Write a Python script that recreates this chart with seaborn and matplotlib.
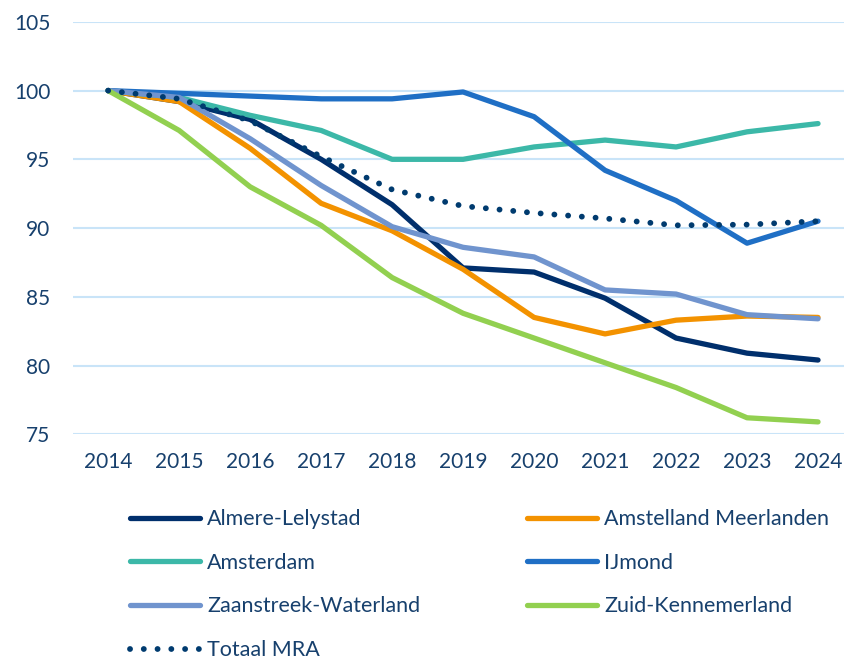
import matplotlib
matplotlib.use("Agg")
import matplotlib.pyplot as plt
import seaborn as sb
import pandas as pd

years = [2014, 2015, 2016, 2017, 2018, 2019, 2020, 2021, 2022, 2023, 2024]

almere = [100, 99.2, 97.9, 95.0, 91.7, 87.1, 86.8, 84.9, 82.0, 80.9, 80.4]
amstelland = [100, 99.2, 95.8, 91.8, 89.8, 87.0, 83.5, 82.3, 83.3, 83.6, 83.5]
amsterdam = [100, 99.5, 98.2, 97.1, 95.0, 95.0, 95.9, 96.4, 95.9, 97.0, 97.6]
ijmond = [100, 99.8, 99.6, 99.4, 99.4, 99.9, 98.1, 94.2, 92.0, 88.9, 90.5]
zaanstreek = [100, 99.5, 96.5, 93.1, 90.1, 88.6, 87.9, 85.5, 85.2, 83.7, 83.4]
zuid = [100, 97.1, 93.0, 90.2, 86.4, 83.8, 82.0, 80.2, 78.4, 76.2, 75.9]
totaal = [100, 99.4, 97.8, 95.2, 92.8, 91.6, 91.1, 90.7, 90.2, 90.25, 90.5]

names = ["Almere-Lelystad", "Amstelland Meerlanden", "Amsterdam", "IJmond",
         "Zaanstreek-Waterland", "Zuid-Kennemerland", "Totaal MRA"]
series = [almere, amstelland, amsterdam, ijmond, zaanstreek, zuid, totaal]
colors = ["#002F6C", "#F39200", "#3CB8A8", "#1F6FC5", "#7094CE", "#92D050", "#003B6F"]

txt = "#17406D"

fig = plt.figure(figsize=(8.45, 6.62), dpi=100)
ax = fig.add_axes([0.086, 0.344, 0.914, 0.623])

lines = {}
for name, vals, c in zip(names, series, colors):
    df = pd.DataFrame({"jaar": years, "index": vals})
    if name == "Totaal MRA":
        sb.lineplot(data=df, x="jaar", y="index", ax=ax, color=c, linewidth=4.2,
                    linestyle=(0, (0.01, 2.35)), dash_capstyle="round", zorder=5)
    else:
        sb.lineplot(data=df, x="jaar", y="index", ax=ax, color=c, linewidth=3.8,
                    solid_capstyle="round")
    lines[name] = ax.lines[-1]

ax.set_ylim(75, 105)
ax.set_xlim(2013.5, 2024.38)
ax.set_xticks(years)
ax.set_yticks([75, 80, 85, 90, 95, 100, 105])
ax.set_xlabel("")
ax.set_ylabel("")
ax.grid(axis="y", color="#C9E4F8", linewidth=1.5)
ax.set_axisbelow(True)
for s in ax.spines.values():
    s.set_visible(False)
ax.tick_params(length=0, labelsize=15, colors=txt)
ax.tick_params(axis="x", pad=13)
ax.tick_params(axis="y", pad=16)
for lab in ax.get_xticklabels() + ax.get_yticklabels():
    lab.set_fontfamily("Lato")

order = ["Almere-Lelystad", "Amsterdam", "Zaanstreek-Waterland", "Totaal MRA",
         "Amstelland Meerlanden", "IJmond", "Zuid-Kennemerland"]
leg = fig.legend([lines[n] for n in order], order, ncol=2, loc="upper left",
                 bbox_to_anchor=(0.144, 0.244), frameon=False,
                 prop={"family": "Lato", "size": 15.5}, labelcolor=txt,
                 handlelength=3.25, handletextpad=0.33, labelspacing=1.1,
                 columnspacing=4.95, borderaxespad=0)

fig.savefig("out.png", dpi=100)
